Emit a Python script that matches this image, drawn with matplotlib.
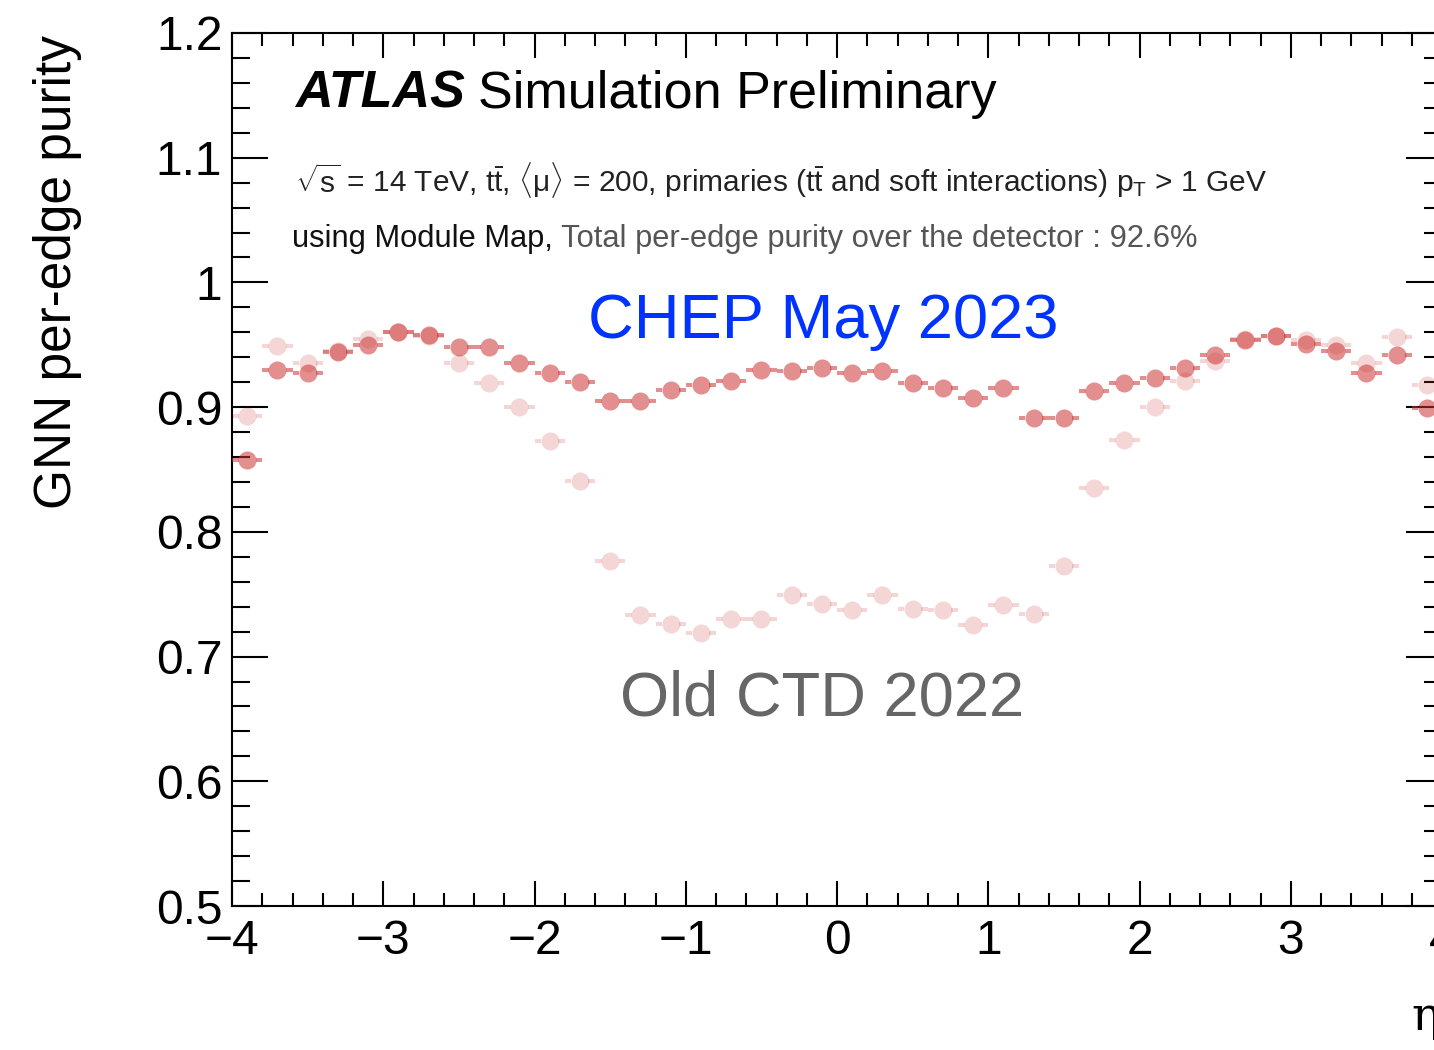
import numpy as np
import matplotlib
matplotlib.use("Agg")
import matplotlib.pyplot as plt
from matplotlib.ticker import MultipleLocator

plt.rcParams['font.family'] = ['Liberation Sans', 'DejaVu Sans']
plt.rcParams['mathtext.fontset'] = 'custom'
plt.rcParams['mathtext.rm'] = 'Liberation Sans'
plt.rcParams['mathtext.it'] = 'Liberation Sans:italic'
plt.rcParams['mathtext.bf'] = 'Liberation Sans:bold'

# eta bin centres (bin width 0.2)
eta = [-3.9, -3.7, -3.5, -3.3, -3.1, -2.9, -2.7, -2.5, -2.3, -2.1,
       -1.9, -1.7, -1.5, -1.3, -1.1, -0.9, -0.7, -0.5, -0.3, -0.1,
       0.1, 0.3, 0.5, 0.7, 0.9, 1.1, 1.3, 1.5, 1.7, 1.9,
       2.1, 2.3, 2.5, 2.7, 2.9, 3.1, 3.3, 3.5, 3.7, 3.9]
half_width = 0.1

# per-edge purity, CHEP May 2023 module map
purity_2023 = [0.858, 0.930, 0.927, 0.944, 0.950, 0.960, 0.958, 0.948, 0.948, 0.935,
               0.927, 0.920, 0.905, 0.905, 0.914, 0.918, 0.921, 0.930, 0.929, 0.931,
               0.927, 0.929, 0.919, 0.915, 0.907, 0.915, 0.891, 0.891, 0.913, 0.919,
               0.923, 0.931, 0.942, 0.954, 0.957, 0.951, 0.945, 0.927, 0.942, 0.899]

# per-edge purity, old CTD 2022
purity_2022 = [0.893, 0.949, 0.935, 0.945, 0.955, 0.960, 0.957, 0.935, 0.919, 0.900,
               0.873, 0.841, 0.777, 0.733, 0.726, 0.719, 0.730, 0.730, 0.749, 0.742,
               0.737, 0.749, 0.738, 0.737, 0.725, 0.741, 0.734, 0.773, 0.835, 0.874,
               0.900, 0.921, 0.937, 0.955, 0.957, 0.954, 0.950, 0.935, 0.956, 0.918]

W, H = 1434, 1050
fig = plt.figure(figsize=(W / 100, H / 100), dpi=100)
fig.patch.set_facecolor('white')

# axes run from eta=-4 to 4; the right edge sits just past the canvas
ax = fig.add_axes([232 / W, 144 / H, 1210 / W, 873 / H])
ax.set_xlim(-4, 4)
ax.set_ylim(0.5, 1.2)

ms = 13
red = (0.80, 0.20, 0.20)
x = np.array(eta)
fig.canvas.draw()
renderer = fig.canvas.get_renderer()
px_per_unit = ax.transData.transform((1, 0))[0] - ax.transData.transform((0, 0))[0]
gap = 0.95 * (ms * fig.dpi / 72 / 2) / px_per_unit


def draw_series(values, alpha, z):
    y = np.array(values)
    # horizontal bin-width bars, kept outside the marker so alpha does not stack
    ax.hlines(y, x - half_width, x - gap, colors=[red], alpha=alpha,
              linewidth=2.9, capstyle='butt', zorder=z)
    ax.hlines(y, x + gap, x + half_width, colors=[red], alpha=alpha,
              linewidth=2.9, capstyle='butt', zorder=z)
    ax.plot(x, y, 'o', ms=ms, mew=0, color=red, alpha=alpha, zorder=z)


draw_series(purity_2022, 0.20, 2)
draw_series(purity_2023, 0.55, 3)

# ROOT-like ticks on all four sides
ax.xaxis.set_major_locator(MultipleLocator(1))
ax.xaxis.set_minor_locator(MultipleLocator(0.2))
ax.yaxis.set_major_locator(MultipleLocator(0.1))
ax.yaxis.set_minor_locator(MultipleLocator(0.02))
ax.tick_params(which='both', direction='in', top=True, right=True, width=1.5)
ax.tick_params(axis='x', which='major', length=18, labelsize=34.5, pad=9)
ax.tick_params(axis='x', which='minor', length=9.5)
ax.tick_params(axis='y', which='major', length=26, labelsize=34.5, pad=7)
ax.tick_params(axis='y', which='minor', length=13)
ax.yaxis.set_major_formatter(plt.FuncFormatter(lambda v, p: f'{v:g}'))
for s in ax.spines.values():
    s.set_linewidth(1.5)

fig.text(58 / W, 1 - 35 / H, 'GNN per-edge purity', rotation=90,
         ha='center', va='top', fontsize=37)
fig.text(1440 / W, 1 - 1030 / H, 'η', family='DejaVu Serif',
         ha='right', va='baseline', fontsize=34)

fig.text(295 / W, 1 - 108 / H, 'ATLAS', fontsize=37.5, weight='bold',
         style='italic', va='baseline')
fig.text(478 / W, 1 - 108 / H, 'Simulation Preliminary', fontsize=37.5,
         va='baseline')
fig.text(295 / W, 1 - 192 / H,
         r'$\sqrt{\mathrm{s}}$ = 14 TeV, $\mathrm{t\bar{t}}$, $\langle\mathrm{\mu}\rangle$ = 200, '
         r'primaries ($\mathrm{t\bar{t}}$ and soft interactions) $\mathrm{p_{T}}$ > 1 GeV',
         fontsize=21.5, va='baseline', color='#222222')
first = fig.text(292 / W, 1 - 247 / H, 'using Module Map,', fontsize=22.2,
                 va='baseline', color='#111111')
bb = first.get_window_extent(renderer)
fig.text((bb.x1 + 8) / W, 1 - 247 / H,
         'Total per-edge purity over the detector : 92.6%',
         fontsize=22.2, va='baseline', color='#555555')

fig.text(588 / W, 1 - 338 / H, 'CHEP May 2023', fontsize=45.5,
         color='#0033ff', va='baseline')
fig.text(620 / W, 1 - 716 / H, 'Old CTD 2022', fontsize=45.5,
         color='#666666', va='baseline')

fig.savefig('out.png', dpi=100)
